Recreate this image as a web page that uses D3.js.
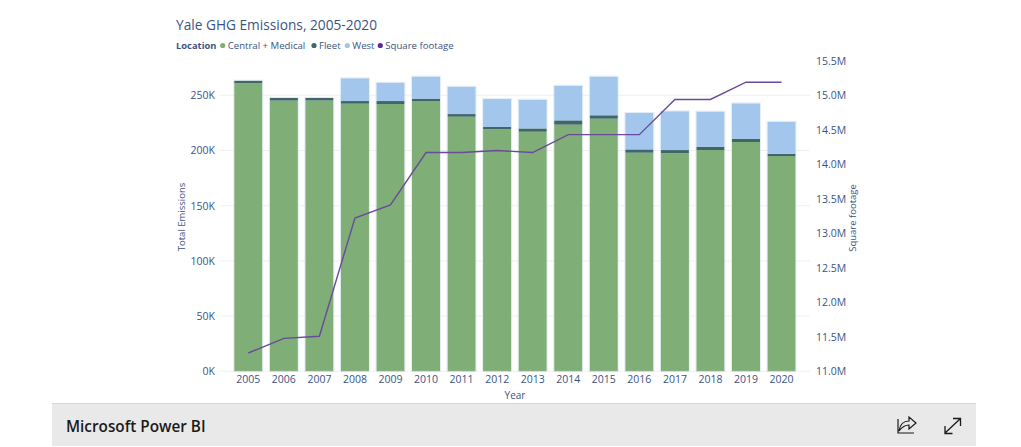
<!DOCTYPE html>
<html>
<head>
<meta charset="utf-8">
<script src="https://cdn.jsdelivr.net/npm/d3@7"></script>
<style>
  html, body { margin: 0; padding: 0; background: #fff; overflow: hidden; }
  text { font-family: "Open Sans", "Noto Sans", sans-serif; }
  .domain { display: none; }
</style>
</head>
<body>
<div id="chart"></div>
<script>
// values (thousands of tonnes / millions of sq ft)
const years = ["2005","2006","2007","2008","2009","2010","2011","2012","2013","2014","2015","2016","2017","2018","2019","2020"];
const central = [260.9,245.2,245.3,242.4,242.1,244.8,230.6,219.2,217,223.4,228.8,198,197.5,200.4,207.7,195];
const fleet = [2.3,2.4,2.3,2.4,2.7,2.2,2.4,2.1,3,3.9,3.1,3,2.9,3.1,3,2.1];
const west = [0,0,0,20.6,16.6,19.9,24.8,25.3,26,31.4,35,33,35.1,31.7,32,28.9];
const sqft = [11.265,11.478,11.507,13.22,13.41,14.17,14.17,14.2,14.17,14.43,14.43,14.43,14.94,14.94,15.19,15.19];

const leftTicks = [0,50,100,150,200,250];
const rightTicks = [11,11.5,12,12.5,13,13.5,14,14.5,15,15.5];
const legendItems = ["Central + Medical","Fleet","West","Square footage"];
const colors = ["#7fae76","#3f6668","#a3c7ec","#5b2d8e"];

const width = 1021, height = 447;
const textColor = "#3c5382";

const svg = d3.select("#chart").append("svg")
    .attr("width", width)
    .attr("height", height)
    .style("display", "block");

const x = d3.scaleBand().domain(years).range([230.5, 799.3]).paddingInner(0.21).paddingOuter(0.105);
const yLeft = d3.scaleLinear().domain([0, 250]).range([371.3, 95.3]);
const yRight = d3.scaleLinear().domain([11, 15.5]).range([371.3, 60.8]);

// gridlines and left axis
const leftAxis = svg.append("g")
    .attr("transform", "translate(220,0)")
    .call(d3.axisLeft(yLeft).tickValues(leftTicks).tickFormat(d => d + "K").tickSize(0).tickPadding(5));
leftAxis.selectAll("text").attr("fill", textColor).attr("font-size", 10.5);

svg.append("g").selectAll("line")
    .data(leftTicks)
    .enter().append("line")
    .attr("x1", 220).attr("x2", 810)
    .attr("y1", d => yLeft(d)).attr("y2", d => yLeft(d))
    .attr("stroke", "#f0f0f0");

const rightAxis = svg.append("g")
    .attr("transform", "translate(816,0)")
    .call(d3.axisRight(yRight).tickValues(rightTicks).tickFormat(d => d3.format(".1f")(d) + "M").tickSize(0).tickPadding(0));
rightAxis.selectAll("text").attr("fill", textColor).attr("font-size", 10.5);

const xAxis = svg.append("g")
    .attr("transform", "translate(0,371.3)")
    .call(d3.axisBottom(x).tickSize(0).tickPadding(4));
xAxis.selectAll("text").attr("fill", textColor).attr("font-size", 10.5);

// stacked bars
const rows = years.map((year, i) => ({ year, central: central[i], fleet: fleet[i], west: west[i] }));
const stack = d3.stack().keys(["central", "fleet", "west"])(rows);

svg.append("g").selectAll("g")
    .data(stack)
    .enter().append("g")
    .attr("fill", (d, i) => colors[i])
    .selectAll("rect")
    .data(d => d.filter(p => p[1] > p[0]))
    .enter().append("rect")
    .attr("x", d => x(d.data.year))
    .attr("width", x.bandwidth())
    .attr("y", d => yLeft(d[1]))
    .attr("height", d => yLeft(d[0]) - yLeft(d[1]));

// faint halo just outside each bar
svg.append("g").selectAll("rect")
    .data(rows)
    .enter().append("rect")
    .attr("x", d => x(d.year) - 0.5)
    .attr("width", x.bandwidth() + 1)
    .attr("y", d => yLeft(d.central + d.fleet + d.west) - 0.5)
    .attr("height", d => yLeft(0) - yLeft(d.central + d.fleet + d.west) + 0.5)
    .attr("fill", "none")
    .attr("stroke", "#cfe0ee")
    .attr("stroke-opacity", 0.55);

// square footage line
const line = d3.line()
    .x((d, i) => x(years[i]) + x.bandwidth() / 2)
    .y(d => yRight(d));

svg.append("path")
    .datum(sqft)
    .attr("d", line)
    .attr("fill", "none")
    .attr("stroke", "#6a4a9c")
    .attr("stroke-width", 1.4);

// titles
svg.append("text").attr("x", 176).attr("y", 29.5)
    .attr("fill", textColor).attr("font-size", 13.7)
    .text("Yale GHG Emissions, 2005-2020");

svg.append("text")
    .attr("transform", "translate(185,217) rotate(-90)")
    .attr("text-anchor", "middle")
    .attr("fill", textColor).attr("font-size", 9.5)
    .text("Total Emissions");

svg.append("text")
    .attr("transform", "translate(856,218) rotate(-90)")
    .attr("text-anchor", "middle")
    .attr("fill", textColor).attr("font-size", 9.5)
    .text("Square footage");

svg.append("text").attr("x", 515).attr("y", 399)
    .attr("text-anchor", "middle")
    .attr("fill", textColor).attr("font-size", 10)
    .text("Year");

// legend
svg.append("text").attr("x", 176).attr("y", 49)
    .attr("fill", textColor).attr("font-size", 9.4).attr("font-weight", 700)
    .text("Location");

const legendX = [222.7, 314, 347.3, 380.3];
const legend = svg.append("g").selectAll("g")
    .data(legendItems)
    .enter().append("g")
    .attr("transform", (d, i) => `translate(${legendX[i]},45.5)`);

legend.append("circle").attr("r", 2.6).attr("fill", (d, i) => colors[i]);
legend.append("text").attr("x", 5).attr("y", 3.5)
    .attr("fill", textColor).attr("font-size", 9.6)
    .text(d => d);

// footer bar
svg.append("rect").attr("x", 52).attr("y", 403).attr("width", 924).attr("height", 43).attr("fill", "#e9e9e9");
svg.append("line").attr("x1", 52).attr("x2", 976).attr("y1", 403.5).attr("y2", 403.5).attr("stroke", "#d6d6d6");

svg.append("text").attr("x", 66).attr("y", 431.5)
    .attr("fill", "#1a1a1a").attr("font-size", 15.3).attr("font-weight", 600)
    .text("Microsoft Power BI");

// share icon
svg.append("path")
    .attr("d", "M898 419 V433 H914 M899 431 C900 424 904 421 909 421 V417 L916 423 L909 429 V425 C905 425 902 427 899 431 Z")
    .attr("fill", "none").attr("stroke", "#1a1a1a").attr("stroke-width", 1.2);

// expand icon
svg.append("path")
    .attr("d", "M945 433 L960 419 M953 418.5 H960.5 V426 M945 426 V433.5 H952.5")
    .attr("fill", "none").attr("stroke", "#1a1a1a").attr("stroke-width", 1.3);
</script>
</body>
</html>
